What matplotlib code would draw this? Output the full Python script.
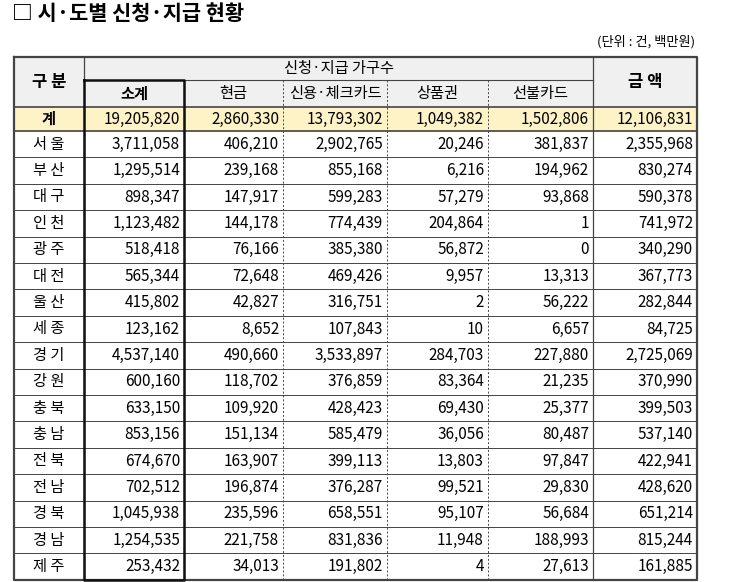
import matplotlib
matplotlib.use("Agg")
import matplotlib.pyplot as plt
from matplotlib.patches import Rectangle

plt.rcParams["font.family"] = ["Noto Sans CJK JP", "Noto Sans CJK KR", "Noto Sans CJK SC", "DejaVu Sans"]

regions = ["서 울","부 산","대 구","인 천","광 주","대 전","울 산","세 종","경 기","강 원","충 북","충 남","전 북","전 남","경 북","경 남","제 주"]
subtotal = ["3,711,058","1,295,514","898,347","1,123,482","518,418","565,344","415,802","123,162","4,537,140","600,160","633,150","853,156","674,670","702,512","1,045,938","1,254,535","253,432"]
cash = ["406,210","239,168","147,917","144,178","76,166","72,648","42,827","8,652","490,660","118,702","109,920","151,134","163,907","196,874","235,596","221,758","34,013"]
card = ["2,902,765","855,168","599,283","774,439","385,380","469,426","316,751","107,843","3,533,897","376,859","428,423","585,479","399,113","376,287","658,551","831,836","191,802"]
voucher = ["20,246","6,216","57,279","204,864","56,872","9,957","2","10","284,703","83,364","69,430","36,056","13,803","99,521","95,107","11,948","4"]
prepaid = ["381,837","194,962","93,868","1","0","13,313","56,222","6,657","227,880","21,235","25,377","80,487","97,847","29,830","56,684","188,993","27,613"]
amount = ["2,355,968","830,274","590,378","741,972","340,290","367,773","282,844","84,725","2,725,069","370,990","399,503","537,140","422,941","428,620","651,214","815,244","161,885"]
total_row = ["계","19,205,820","2,860,330","13,793,302","1,049,382","1,502,806","12,106,831"]
sub_headers = ["소계","현금","신용·체크카드","상품권","선불카드"]

fig = plt.figure(figsize=(7.30, 5.82), dpi=100)
ax = fig.add_axes([0, 0, 1, 1])
ax.set_xlim(0, 730); ax.set_ylim(582, 0); ax.axis("off")

xs = [14, 84, 184, 283, 387, 488, 593, 697]
top, h1, h2, tot = 57, 80, 107, 131
rh = 26.4
n = len(regions)
bottom = tot + rh * n

ax.text(12, 14, "□ 시·도별 신청·지급 현황", fontsize=15, fontweight="bold", va="center", ha="left")
ax.text(695, 42, "(단위 : 건, 백만원)", fontsize=9.5, va="center", ha="right")

ax.add_patch(Rectangle((xs[0], top), xs[-1]-xs[0], h2-top, color="#f0f0f0", zorder=0))
ax.add_patch(Rectangle((xs[0], h2), xs[-1]-xs[0], tot-h2, color="#fdf3c6", zorder=0))

lc = "#444444"
ax.plot([xs[0], xs[-1], xs[-1], xs[0], xs[0]], [top, top, bottom, bottom, top], color=lc, lw=1.6)
ax.plot([xs[1], xs[6]], [h1, h1], color=lc, lw=0.8)
ax.plot([xs[0], xs[-1]], [h2, h2], color=lc, lw=1.2)
ax.plot([xs[0], xs[-1]], [tot, tot], color=lc, lw=1.2)
for i in range(1, n):
    y = tot + rh * i
    ax.plot([xs[0], xs[-1]], [y, y], color=lc, lw=0.7)
ax.plot([xs[1], xs[1]], [top, bottom], color=lc, lw=0.9)
ax.plot([xs[6], xs[6]], [top, bottom], color=lc, lw=0.9)
ax.plot([xs[2], xs[2]], [h1, bottom], color=lc, lw=0.9)
for k in (3, 4, 5):
    ax.plot([xs[k], xs[k]], [h1, bottom], color=lc, lw=0.7, ls=(0, (2, 2)))
ax.plot([xs[1], xs[2], xs[2], xs[1], xs[1]], [h1, h1, bottom, bottom, h1], color="#111111", lw=1.8)

fs = 11
ax.text((xs[0]+xs[1])/2, (top+h2)/2, "구 분", fontsize=12, fontweight="bold", ha="center", va="center")
ax.text((xs[6]+xs[7])/2, (top+h2)/2, "금 액", fontsize=12, fontweight="bold", ha="center", va="center")
ax.text((xs[1]+xs[6])/2, (top+h1)/2, "신청·지급 가구수", fontsize=fs, ha="center", va="center")
for j, s in enumerate(sub_headers):
    ax.text((xs[j+1]+xs[j+2])/2, (h1+h2)/2, s, fontsize=fs, ha="center", va="center",
            fontweight="bold" if j == 0 else "normal")

ax.text((xs[0]+xs[1])/2, (h2+tot)/2, total_row[0], fontsize=fs, fontweight="bold", ha="center", va="center")
for j, v in enumerate(total_row[1:]):
    ax.text(xs[j+2]-4, (h2+tot)/2, v, fontsize=fs, ha="right", va="center")

cols = [subtotal, cash, card, voucher, prepaid, amount]
for i, r in enumerate(regions):
    yc = tot + rh * (i + 0.5)
    ax.text((xs[0]+xs[1])/2, yc, r, fontsize=fs, ha="center", va="center")
    for j, c in enumerate(cols):
        ax.text(xs[j+2]-4, yc, c[i], fontsize=fs, ha="right", va="center")

fig.savefig("out.png", dpi=100)
